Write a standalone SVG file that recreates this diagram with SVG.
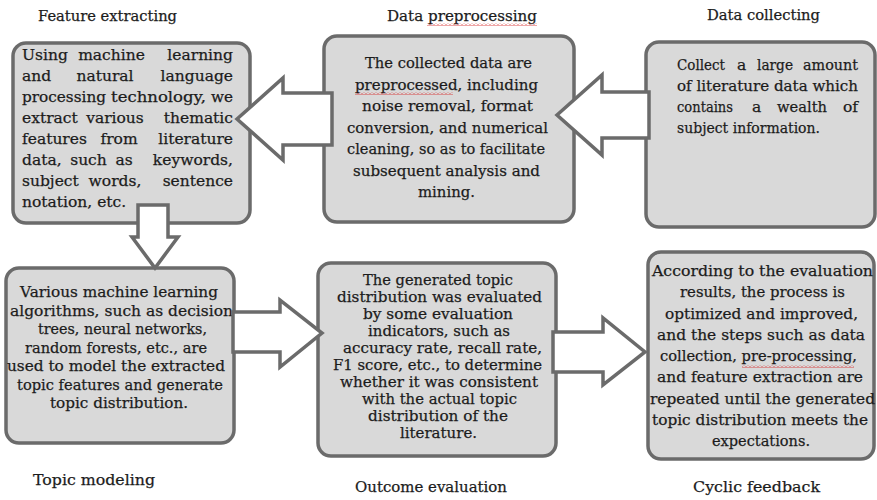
<svg xmlns="http://www.w3.org/2000/svg" width="877" height="500" viewBox="0 0 877 500">
<style>
.box{fill:#d9d9d9;stroke:#6b6b6b;stroke-width:3.5}
.arr{fill:#ffffff;stroke:#6b6b6b;stroke-width:3.5;stroke-linejoin:miter}
text{font-family:"DejaVu Serif","Liberation Serif",serif;font-size:15.5px;fill:#1c1c1c;stroke:#1c1c1c;stroke-width:0.25}
.m{text-anchor:middle}
.e{text-anchor:end}
.sq{fill:url(#squig)}
</style>
<defs>
<pattern id="squig" x="0" y="0" width="4" height="3" patternUnits="userSpaceOnUse">
<path d="M0 2.5 L2 0.5 L4 2.5" fill="none" stroke="#d62020" stroke-width="0.8"/>
</pattern>
</defs>
<rect width="877" height="500" fill="#ffffff"/>

<g id="labels">
<text x="38" y="21" textLength="139" lengthAdjust="spacingAndGlyphs">Feature extracting</text>
<text x="387" y="21" textLength="150" lengthAdjust="spacingAndGlyphs">Data preprocessing</text>
<rect class="sq" x="427" y="23" width="110" height="3"/>
<text x="707" y="20" textLength="113" lengthAdjust="spacingAndGlyphs">Data collecting</text>
<text x="33" y="485" textLength="122" lengthAdjust="spacingAndGlyphs">Topic modeling</text>
<text x="355" y="492" textLength="152" lengthAdjust="spacingAndGlyphs">Outcome evaluation</text>
<text x="693" y="492" textLength="127" lengthAdjust="spacingAndGlyphs">Cyclic feedback</text>
</g>

<g id="feature-extracting">
<rect class="box" x="13" y="43" width="237" height="180" rx="13"/>
<text x="22" y="60">Using</text><text class="m" x="111.5" y="60">machine</text><text class="e" x="233" y="60">learning</text>
<text x="22" y="81">and</text><text class="m" x="105" y="81">natural</text><text class="e" x="233" y="81">language</text>
<text x="22" y="102" textLength="84" lengthAdjust="spacingAndGlyphs">processing</text><text x="111" y="102" textLength="95" lengthAdjust="spacingAndGlyphs">technology,</text><text class="e" x="233" y="102" textLength="22" lengthAdjust="spacingAndGlyphs">we</text>
<text x="22" y="123">extract</text><text class="m" x="115" y="123">various</text><text class="e" x="233" y="123">thematic</text>
<text x="22" y="144">features</text><text class="m" x="119" y="144">from</text><text class="e" x="233" y="144">literature</text>
<text x="22" y="165">data,</text><text class="m" x="88.5" y="165">such</text><text class="m" x="124" y="165">as</text><text class="e" x="233" y="165">keywords,</text>
<text x="22" y="186">subject</text><text class="m" x="115" y="186">words,</text><text class="e" x="233" y="186">sentence</text>
<text x="22" y="207">notation, etc.</text>
</g>

<g id="data-preprocessing">
<rect class="box" x="324" y="36" width="250" height="186" rx="13"/>
<text class="m" x="448.5" y="68" textLength="167" lengthAdjust="spacingAndGlyphs">The collected data are</text>
<text class="m" x="446.5" y="89.5" textLength="183" lengthAdjust="spacingAndGlyphs">preprocessed, including</text>
<rect class="sq" x="355" y="92" width="98" height="3"/>
<text class="m" x="447.5" y="111" textLength="171" lengthAdjust="spacingAndGlyphs">noise removal, format</text>
<text class="m" x="447.5" y="132.5" textLength="201" lengthAdjust="spacingAndGlyphs">conversion, and numerical</text>
<text class="m" x="446" y="154" textLength="198" lengthAdjust="spacingAndGlyphs">cleaning, so as to facilitate</text>
<text class="m" x="446.5" y="175.5" textLength="187" lengthAdjust="spacingAndGlyphs">subsequent analysis and</text>
<text class="m" x="446.5" y="197" textLength="57" lengthAdjust="spacingAndGlyphs">mining.</text>
</g>

<g id="data-collecting">
<rect class="box" x="646" y="42" width="229" height="185" rx="13"/>
<text x="677" y="70" textLength="48" lengthAdjust="spacingAndGlyphs">Collect</text><text x="737" y="70">a</text><text x="757" y="70" textLength="36" lengthAdjust="spacingAndGlyphs">large</text><text x="803" y="70" textLength="55" lengthAdjust="spacingAndGlyphs">amount</text>
<text x="677" y="91" textLength="181" lengthAdjust="spacingAndGlyphs">of literature data which</text>
<text x="677" y="112" textLength="56" lengthAdjust="spacingAndGlyphs">contains</text><text x="752" y="112">a</text><text x="777" y="112" textLength="50" lengthAdjust="spacingAndGlyphs">wealth</text><text class="e" x="858" y="112">of</text>
<text x="677" y="133" textLength="143" lengthAdjust="spacingAndGlyphs">subject information.</text>
</g>

<g id="topic-modeling">
<rect class="box" x="6" y="268" width="228" height="175" rx="13"/>
<text x="20" y="297" textLength="198" lengthAdjust="spacingAndGlyphs">Various machine learning</text>
<text x="10" y="315.5" textLength="223" lengthAdjust="spacingAndGlyphs">algorithms, such as decision</text>
<text x="38" y="334" textLength="169" lengthAdjust="spacingAndGlyphs">trees, neural networks,</text>
<text x="25" y="352.5" textLength="182" lengthAdjust="spacingAndGlyphs">random forests, etc., are</text>
<text x="7" y="371" textLength="218" lengthAdjust="spacingAndGlyphs">used to model the extracted</text>
<text x="17" y="389.5" textLength="206" lengthAdjust="spacingAndGlyphs">topic features and generate</text>
<text x="50" y="408" textLength="138" lengthAdjust="spacingAndGlyphs">topic distribution.</text>
</g>

<g id="outcome-evaluation">
<rect class="box" x="318" y="263" width="238" height="193" rx="13"/>
<text x="363" y="285" textLength="150" lengthAdjust="spacingAndGlyphs">The generated topic</text>
<text x="337" y="302" textLength="205" lengthAdjust="spacingAndGlyphs">distribution was evaluated</text>
<text x="363" y="319" textLength="150" lengthAdjust="spacingAndGlyphs">by some evaluation</text>
<text x="368" y="336" textLength="142" lengthAdjust="spacingAndGlyphs">indicators, such as</text>
<text x="343" y="353" textLength="199" lengthAdjust="spacingAndGlyphs">accuracy rate, recall rate,</text>
<text x="333" y="370" textLength="209" lengthAdjust="spacingAndGlyphs">F1 score, etc., to determine</text>
<text x="340" y="386.5" textLength="198" lengthAdjust="spacingAndGlyphs">whether it was consistent</text>
<text x="362" y="403.5" textLength="155" lengthAdjust="spacingAndGlyphs">with the actual topic</text>
<text x="368" y="420.5" textLength="140" lengthAdjust="spacingAndGlyphs">distribution of the</text>
<text x="400" y="437.5" textLength="77" lengthAdjust="spacingAndGlyphs">literature.</text>
</g>

<g id="cyclic-feedback">
<rect class="box" x="648" y="252" width="226" height="207" rx="13"/>
<text x="652" y="276" textLength="221" lengthAdjust="spacingAndGlyphs">According to the evaluation</text>
<text x="680" y="297.3" textLength="165" lengthAdjust="spacingAndGlyphs">results, the process is</text>
<text x="665" y="318.5" textLength="193" lengthAdjust="spacingAndGlyphs">optimized and improved,</text>
<text x="657" y="339.8" textLength="208" lengthAdjust="spacingAndGlyphs">and the steps such as data</text>
<text x="660" y="361" textLength="197" lengthAdjust="spacingAndGlyphs">collection, pre-processing,</text>
<rect class="sq" x="742" y="365" width="112" height="3"/>
<text x="657" y="382.3" textLength="206" lengthAdjust="spacingAndGlyphs">and feature extraction are</text>
<text x="650" y="403.5" textLength="225" lengthAdjust="spacingAndGlyphs">repeated until the generated</text>
<text x="652" y="424.8" textLength="216" lengthAdjust="spacingAndGlyphs">topic distribution meets the</text>
<text x="712" y="446" textLength="98" lengthAdjust="spacingAndGlyphs">expectations.</text>
</g>

<g id="connectors">
<polygon class="arr" points="237,119 283,78 283,93 332,93 332,145 283,145 283,160"/>
<polygon class="arr" points="557,115 602,75 602,92 649,92 649,138 602,138 602,155"/>
<polygon class="arr" points="138,205 168,205 168,237 178,237 155,268 132,237 138,237"/>
<polygon class="arr" points="233,312 280,312 280,300 322,333 280,367 280,352 233,352"/>
<polygon class="arr" points="553,332 603,332 603,318 645,352 603,385 603,372 553,372"/>
</g>
</svg>
